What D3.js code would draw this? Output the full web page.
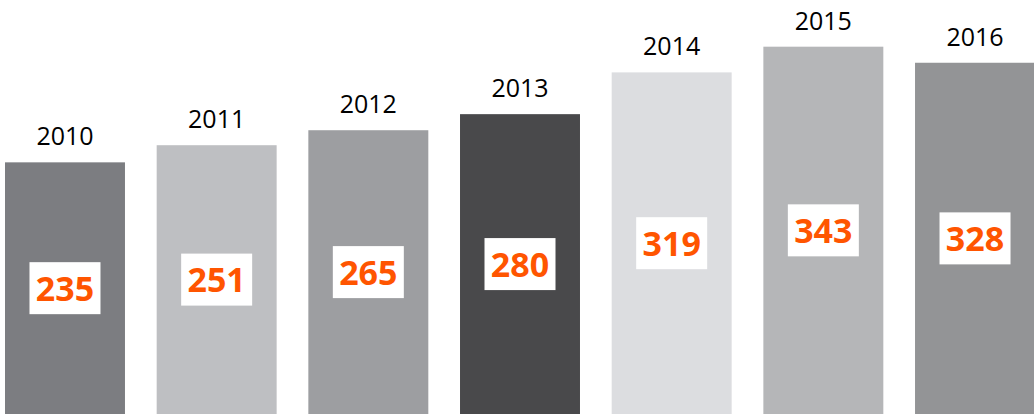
<!DOCTYPE html>
<html>
<head>
    <meta charset="UTF-8">
    <title>bars</title>
    <script src="https://d3js.org/d3.v7.min.js"></script>
    <style>
        body { margin: 0; background: #fff; }
        svg { display: block; }
        .year { font-family: "Open Sans", sans-serif; font-size: 25px; fill: #000; }
        .val { font-family: "Open Sans", sans-serif; font-weight: bold; font-size: 34px; fill: #ff5500; }
    </style>
</head>
<body>
<svg id="chart"></svg>
<script>
    var years = ["2010", "2011", "2012", "2013", "2014", "2015", "2016"];
    var values = [235, 251, 265, 280, 319, 343, 328];
    var colors = ["#7c7d81", "#bebfc2", "#9d9ea1", "#49494b", "#dcdde0", "#b5b6b8", "#939496"];

    var w = 1034, h = 414;
    var svg = d3.select("#chart").attr("width", w).attr("height", h);

    var x = d3.scaleBand().domain(years).range([5, 1035]).paddingInner(0.209).paddingOuter(0);
    var y = d3.scaleLinear().domain([0, 386.6]).range([h, 0]);

    var data = years.map(function (yr, i) {
        return {year: yr, value: values[i], color: colors[i]};
    });

    var g = svg.selectAll("g.bar").data(data).enter().append("g").attr("class", "bar");

    g.append("rect")
        .attr("x", function (d) { return x(d.year); })
        .attr("y", function (d) { return y(d.value); })
        .attr("width", x.bandwidth())
        .attr("height", function (d) { return h - y(d.value); })
        .attr("fill", function (d) { return d.color; });

    g.append("text")
        .attr("class", "year")
        .attr("text-anchor", "middle")
        .attr("x", function (d) { return x(d.year) + x.bandwidth() / 2; })
        .attr("y", function (d) { return y(d.value) - 17; })
        .text(function (d) { return d.year; });

    var bw = 71, bh = 52;
    function mid(d) { return (y(d.value) + h) / 2; }

    g.append("rect")
        .attr("fill", "#fff")
        .attr("x", function (d) { return x(d.year) + x.bandwidth() / 2 - bw / 2; })
        .attr("y", function (d) { return mid(d) - bh / 2; })
        .attr("width", bw)
        .attr("height", bh);

    g.append("text")
        .attr("class", "val")
        .attr("text-anchor", "middle")
        .attr("x", function (d) { return x(d.year) + x.bandwidth() / 2; })
        .attr("y", function (d) { return mid(d) + 12.5; })
        .text(function (d) { return d.value; });
</script>
</body>
</html>
